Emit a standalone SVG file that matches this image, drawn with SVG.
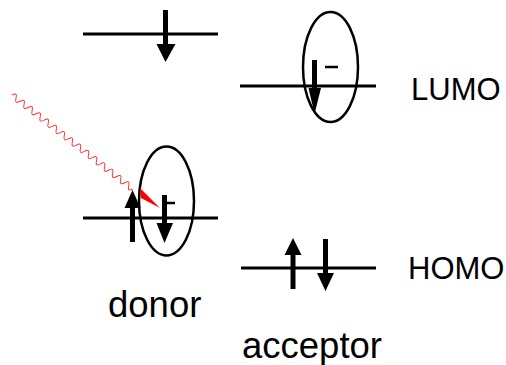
<svg xmlns="http://www.w3.org/2000/svg" width="506" height="365" viewBox="0 0 506 365">
<defs>
<style>
.lvl{stroke:#000;stroke-width:3;fill:none}
.orb{stroke:#000;stroke-width:2.5;fill:none}
.sh{stroke:#000;stroke-width:5;fill:none}
.mn{stroke:#000;stroke-width:2.5;fill:none}
.hd{fill:#000}
.lbl{font-family:"Liberation Sans",Arial,sans-serif;fill:#000}
</style>
</defs>
<rect width="506" height="365" fill="#fff"/>
<g id="donor-lumo">
<line class="lvl" x1="83" y1="34" x2="218" y2="34"/>
<line class="sh" x1="165.5" y1="10" x2="165.5" y2="45"/>
<polygon class="hd" points="156.5,44 175.5,44 165.5,62"/>
</g>
<g id="acceptor-lumo">
<line class="lvl" x1="240" y1="86" x2="376" y2="86"/>
<ellipse class="orb" cx="330.5" cy="67" rx="27.5" ry="55"/>
<line class="sh" x1="314.5" y1="60" x2="314.5" y2="89"/>
<polygon class="hd" points="308.5,88 321,88 314.5,114"/>
<line class="mn" x1="325" y1="67" x2="338" y2="67"/>
</g>
<g id="donor-homo">
<line class="lvl" x1="83" y1="218" x2="218" y2="218"/>
<ellipse class="orb" cx="166.5" cy="201" rx="27.5" ry="54.5"/>
<line class="sh" x1="132.5" y1="207" x2="132.5" y2="242"/>
<polygon class="hd" points="124.5,208 140.5,208 132.5,190"/>
<line class="sh" x1="164.5" y1="195" x2="164.5" y2="224"/>
<polygon class="hd" points="156.5,223 173,223 164.5,243"/>
<line class="mn" x1="163" y1="203" x2="175" y2="203"/>
</g>
<g id="acceptor-homo">
<line class="lvl" x1="241" y1="268" x2="376" y2="268"/>
<line class="sh" x1="293" y1="254" x2="293" y2="289"/>
<polygon class="hd" points="284.5,255 301.5,255 293,238"/>
<line class="sh" x1="325.5" y1="239" x2="325.5" y2="274"/>
<polygon class="hd" points="317,273 334,273 325.5,291"/>
</g>
<g id="photon">
<path d="M0,0 q2.55,-6 5.1,0 t5.1,0 t5.1,0 t5.1,0 t5.1,0 t5.1,0 t5.1,0 t5.1,0 t5.1,0 t5.1,0 t5.1,0 t5.1,0 t5.1,0 t5.1,0 t5.1,0 t5.1,0 t5.1,0 t5.1,0 t5.1,0 t5.1,0 t5.1,0 t5.1,0 t5.1,0 t5.1,0 t5.1,0 t5.1,0 t5.1,0 t5.1,0 t5.1,0 t5.1,0" transform="translate(12,95) rotate(37.9)" fill="none" stroke="#f33" stroke-width="1"/>
<polygon points="140,188 141,198 160,208" fill="#f00"/>
</g>
<g id="labels">
<text class="lbl" x="411" y="100" font-size="31">LUMO</text>
<text class="lbl" x="408" y="279" font-size="31">HOMO</text>
<text class="lbl" x="108" y="317" font-size="36.5">donor</text>
<text class="lbl" x="242" y="358" font-size="36.5">acceptor</text>
</g>
</svg>
